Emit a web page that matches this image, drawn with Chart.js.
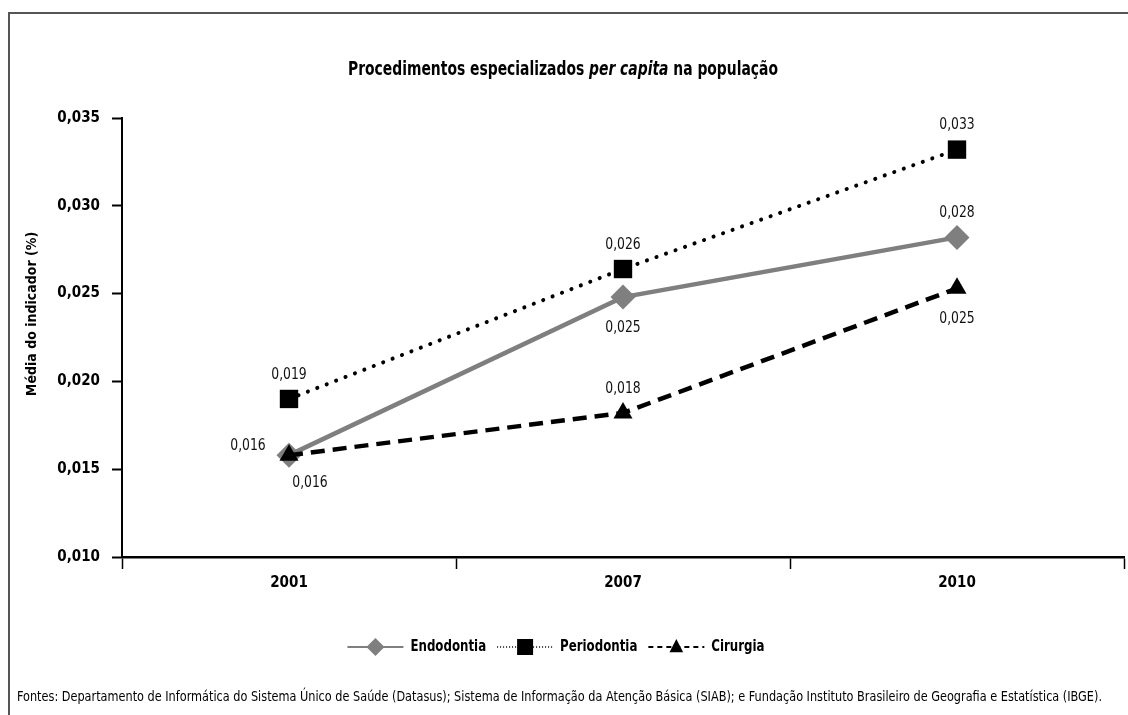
<!DOCTYPE html>
<html lang="pt-BR">
<head>
<meta charset="utf-8">
<script src="https://cdn.jsdelivr.net/npm/chart.js@4.4.1/dist/chart.umd.min.js"></script>
<style>
  html, body { margin: 0; padding: 0; background: #fff; }
  #wrap { width: 1128px; height: 715px; }
</style>
</head>
<body>
<div id="wrap"><canvas id="grafico"></canvas></div>
<script>
const anos = ['2001', '2007', '2010'];
const endodontia = [0.0158, 0.0248, 0.0282];
const periodontia = [0.0190, 0.0264, 0.0332];
const cirurgia = [0.0158, 0.0182, 0.0253];
const limitesY = [0.010, 0.035];
const passoY = 0.005;

const FONTE = "'Liberation Sans Narrow', 'DejaVu Sans Condensed', 'Arial Narrow', sans-serif";
const fonte = (peso, tam, estilo) => `${estilo || 'normal'} ${peso} ${tam}px ${FONTE}`;
const formata = v => v.toFixed(3).replace('.', ',');

// amostras da legenda (linha + marcador)
const amostras = [
  { cor: '#7f7f7f', larg: 2, traco: [], marcador: 'losango', r: 9 },
  { cor: '#000', larg: 1.3, traco: [1, 2], marcador: 'quadrado', r: 8 },
  { cor: '#000', larg: 2, traco: [5, 4], marcador: 'triangulo', r: 8 }
];

// deslocamento dos rótulos de valor em relação ao ponto
const desloc = {
  acima: [0, -24],
  abaixo: [0, 31],
  esquerda: [-41, -9],
  abaixoDir: [21, 28]
};

// texto estreitado na horizontal (fonte condensada)
function textoEstreito(c, txt, x, y, sx) {
  c.save();
  c.translate(x, y);
  c.scale(sx, 1);
  c.fillText(txt, 0, 0);
  c.restore();
}

function marcador(c, tipo, x, y, r) {
  c.beginPath();
  if (tipo === 'losango') {
    c.moveTo(x - r, y); c.lineTo(x, y - r); c.lineTo(x + r, y); c.lineTo(x, y + r);
  } else if (tipo === 'quadrado') {
    c.rect(x - r, y - r, 2 * r, 2 * r);
  } else {
    c.moveTo(x, y - r); c.lineTo(x + r * 0.85, y + r * 0.65); c.lineTo(x - r * 0.85, y + r * 0.65);
  }
  c.closePath();
  c.fill();
}

const extras = {
  id: 'extras',
  beforeDraw(chart) {
    const c = chart.ctx;
    c.save();
    c.strokeStyle = '#555';
    c.lineWidth = 2;
    c.beginPath();
    c.moveTo(9, chart.height);
    c.lineTo(9, 13);
    c.lineTo(chart.width, 13);
    c.stroke();
    c.restore();
  },
  afterDatasetsDraw(chart) {
    const c = chart.ctx;
    c.save();
    c.font = fonte('normal', 15);
    c.fillStyle = '#111';
    c.textAlign = 'center';
    c.textBaseline = 'middle';
    chart.data.datasets.forEach((ds, i) => {
      chart.getDatasetMeta(i).data.forEach((pt, j) => {
        const [dx, dy] = desloc[ds.rotulos[j]];
        textoEstreito(c, formata(ds.data[j]), pt.x + dx, pt.y + dy, 0.92);
      });
    });
    c.restore();
  },
  afterDraw(chart) {
    const c = chart.ctx;
    c.save();
    c.fillStyle = '#000';
    c.textBaseline = 'middle';
    c.textAlign = 'left';

    // título com "per capita" em itálico
    const partes = [
      { t: 'Procedimentos especializados ', f: fonte('bold', 20) },
      { t: 'per capita', f: fonte('bold', 20, 'italic') },
      { t: ' na população', f: fonte('bold', 20) }
    ];
    let total = 0;
    partes.forEach(p => { c.font = p.f; p.w = c.measureText(p.t).width; total += p.w; });
    const sx = 430 / total;
    let x = 563 - total * sx / 2;
    partes.forEach(p => { c.font = p.f; textoEstreito(c, p.t, x, 70, sx); x += p.w * sx; });

    // título do eixo Y
    c.save();
    c.translate(32, 314);
    c.rotate(-Math.PI / 2);
    c.textAlign = 'center';
    c.font = fonte('bold', 14);
    c.fillText('Média do indicador (%)', 0, 0);
    c.restore();

    // legenda
    c.font = fonte('bold', 16);
    const sl = 0.82;
    const compLinha = 56, espaco = 7, entre = 11;
    const itens = chart.data.datasets.map((ds, i) => ({ ds, a: amostras[i], w: c.measureText(ds.label).width * sl }));
    const largura = itens.reduce((s, it) => s + compLinha + espaco + it.w, 0) + entre * (itens.length - 1);
    let lx = 556 - largura / 2;
    const ly = 647;
    itens.forEach(it => {
      c.strokeStyle = it.a.cor;
      c.lineWidth = it.a.larg;
      c.setLineDash(it.a.traco);
      c.beginPath();
      c.moveTo(lx, ly); c.lineTo(lx + compLinha, ly);
      c.stroke();
      c.setLineDash([]);
      c.fillStyle = it.a.cor;
      marcador(c, it.a.marcador, lx + compLinha / 2, ly, it.a.r);
      c.fillStyle = '#000';
      textoEstreito(c, it.ds.label, lx + compLinha + espaco, ly, sl);
      lx += compLinha + espaco + it.w + entre;
    });

    // fonte dos dados
    c.font = fonte('normal', 14);
    c.fillText('Fontes: Departamento de Informática do Sistema Único de Saúde (Datasus); Sistema de Informação da Atenção Básica (SIAB); e Fundação Instituto Brasileiro de Geografia e Estatística (IBGE).', 17, 697, 1085);
    c.restore();
  }
};

new Chart(document.getElementById('grafico'), {
  type: 'line',
  data: {
    labels: anos,
    datasets: [
      {
        label: 'Endodontia',
        data: endodontia,
        rotulos: ['abaixoDir', 'abaixo', 'acima'],
        borderColor: '#7f7f7f',
        backgroundColor: '#7f7f7f',
        borderWidth: 4.5,
        pointStyle: 'rectRot',
        pointRadius: 12.5,
        pointBorderWidth: 0,
        order: 2
      },
      {
        label: 'Periodontia',
        data: periodontia,
        rotulos: ['acima', 'acima', 'acima'],
        borderColor: '#000',
        backgroundColor: '#000',
        borderWidth: 4,
        borderDash: [0.1, 10],
        borderCapStyle: 'round',
        pointStyle: 'rect',
        pointRadius: 13,
        pointBorderWidth: 0,
        order: 1
      },
      {
        label: 'Cirurgia',
        data: cirurgia,
        rotulos: ['esquerda', 'acima', 'abaixo'],
        borderColor: '#000',
        backgroundColor: '#000',
        borderWidth: 4.5,
        borderDash: [14, 8],
        pointStyle: 'triangle',
        pointRadius: 11,
        pointBorderWidth: 0,
        order: 0
      }
    ]
  },
  options: {
    responsive: true,
    maintainAspectRatio: false,
    animation: false,
    layout: { autoPadding: false, padding: { top: 118, right: 4, bottom: 118, left: 0 } },
    plugins: {
      legend: { display: false },
      title: { display: false },
      tooltip: { enabled: false }
    },
    scales: {
      x: {
        offset: true,
        afterFit: s => { s.height = 40; },
        grid: {
          offset: true,
          drawOnChartArea: false,
          tickLength: 12,
          tickWidth: 1.5,
          tickColor: '#000'
        },
        border: { display: true, color: '#000', width: 2.5 },
        ticks: {
          padding: 5,
          color: '#000',
          font: { family: FONTE, size: 15, weight: 'bold' }
        }
      },
      y: {
        min: limitesY[0],
        max: limitesY[1],
        afterFit: s => { s.width = 122; },
        grid: {
          drawOnChartArea: false,
          tickLength: 10,
          tickWidth: 2,
          tickColor: '#000'
        },
        border: { display: true, color: '#000', width: 2 },
        ticks: {
          stepSize: passoY,
          padding: 12,
          color: '#000',
          font: { family: FONTE, size: 15, weight: 'bold' },
          callback: v => formata(v)
        }
      }
    }
  },
  plugins: [extras]
});
</script>
</body>
</html>
